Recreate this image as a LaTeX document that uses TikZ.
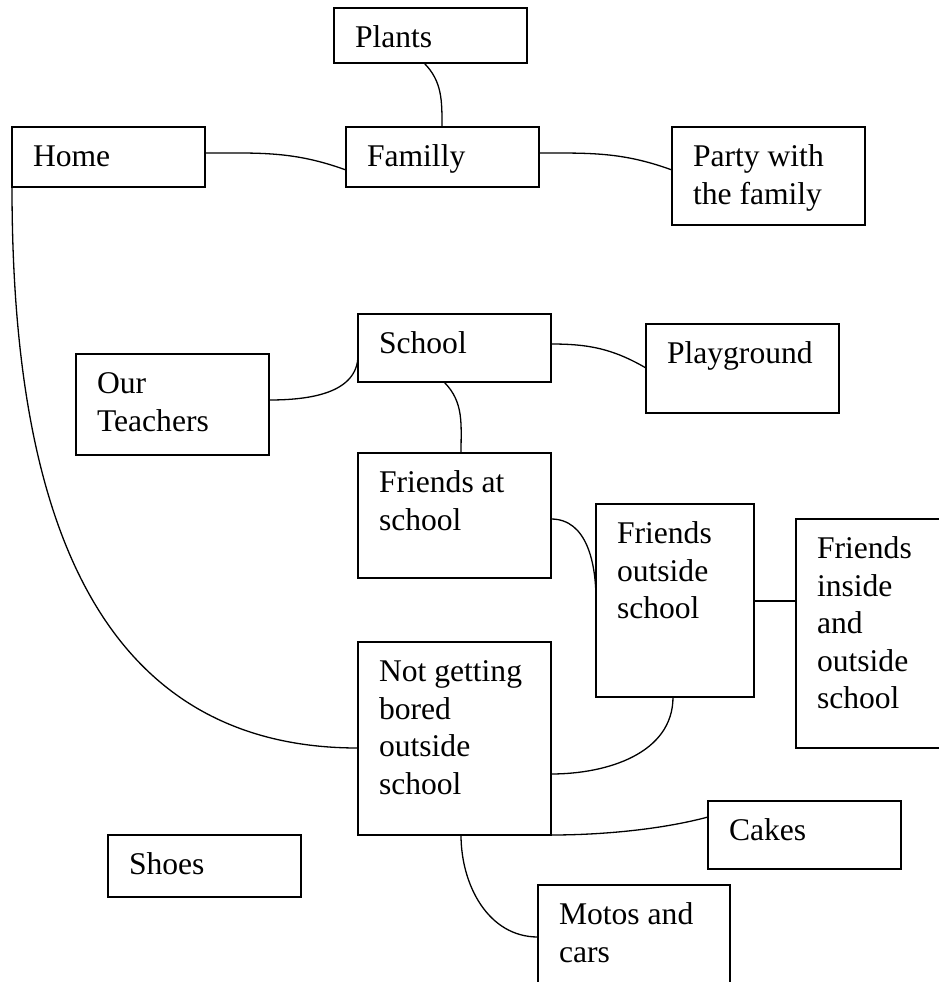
\documentclass[tikz,border=0pt]{standalone}
\usepackage{fontspec}
\setmainfont{Liberation Serif}
\tikzset{
  box/.style={draw, line width=1.4pt, inner sep=0pt, outer sep=0pt, anchor=north west},
  txt/.style={anchor=base west, inner sep=0pt, outer sep=0pt, text width=200pt, align=flush left,
              font=\fontsize{31.6}{37.6}\selectfont},
  link/.style={line width=1.3pt},
}
\newcommand\mkbox[6]{%
  \node[box, minimum width=#4pt, minimum height=#5pt] (#1) at (#2,-#3) {};
  \node[txt] (#1-t) at ([shift={(21,-39.5)}]#1.north west) {#6};
}
\begin{document}
\begin{tikzpicture}[x=1pt,y=1pt]
\clip (0,0) rectangle (939,-982);
\fill[white] (0,0) rectangle (939,-982);
\mkbox{plants}{334}{8}{193}{55}{Plants}
\mkbox{home}{12}{127}{193}{60}{Home}
\mkbox{fam}{346}{127}{193}{60}{Familly}
\mkbox{party}{672}{127}{193}{98}{Party with\\the family}
\mkbox{school}{358}{314}{193}{68}{School}
\mkbox{play}{646}{324}{193}{89}{Playground}
\mkbox{teach}{76}{354}{193}{101}{Our\\Teachers}
\mkbox{fas}{358}{453}{193}{125}{Friends at\\school}
\mkbox{fos}{596}{504}{158}{193}{Friends\\outside\\school}
\mkbox{fios}{796}{519}{193}{229}{Friends\\inside\\and\\outside\\school}
\mkbox{nbo}{358}{642}{193}{193}{Not getting\\bored\\outside\\school}
\mkbox{cakes}{708}{801}{193}{68}{Cakes}
\mkbox{shoes}{108}{835}{193}{62}{Shoes}
\mkbox{motos}{538}{885}{192}{193}{Motos and\\cars}

\draw[link] ([xshift=90]plants.south west) to[out=-45,in=90] ([xshift=96]fam.north west);
\draw[link] ([yshift=-26]home.north east) to[out=0,in=160] ([yshift=-43]fam.north west);
\draw[link] ([yshift=-26]fam.north east) to[out=0,in=160] ([yshift=-43]party.north west);
\draw[link] ([yshift=-46]teach.north east) to[out=0,in=-90] ([yshift=-41]school.north west);
\draw[link] ([yshift=-30]school.north east) to[out=0,in=150] ([yshift=-44]play.north west);
\draw[link] ([xshift=86]school.south west) to[out=-45,in=90] ([xshift=103]fas.north west);
\draw[link] ([yshift=-66]fas.north east) to[out=0,in=90] ([yshift=-96]fos.north west);
\draw[link] ([yshift=-97]fos.north east) -- ([yshift=-82]fios.north west);
\draw[link] ([xshift=77]fos.south west) to[out=-90,in=0] ([yshift=-132]nbo.north east);
\draw[link] (nbo.south east) to[out=0,in=-165,looseness=0.8] ([yshift=-16]cakes.north west);
\draw[link] ([xshift=103]nbo.south west) to[out=-90,in=180] ([yshift=-52]motos.north west);
\draw[link] (home.south west) to[out=-90,in=180,looseness=1.1] ([yshift=-106]nbo.north west);
\end{tikzpicture}
\end{document}
